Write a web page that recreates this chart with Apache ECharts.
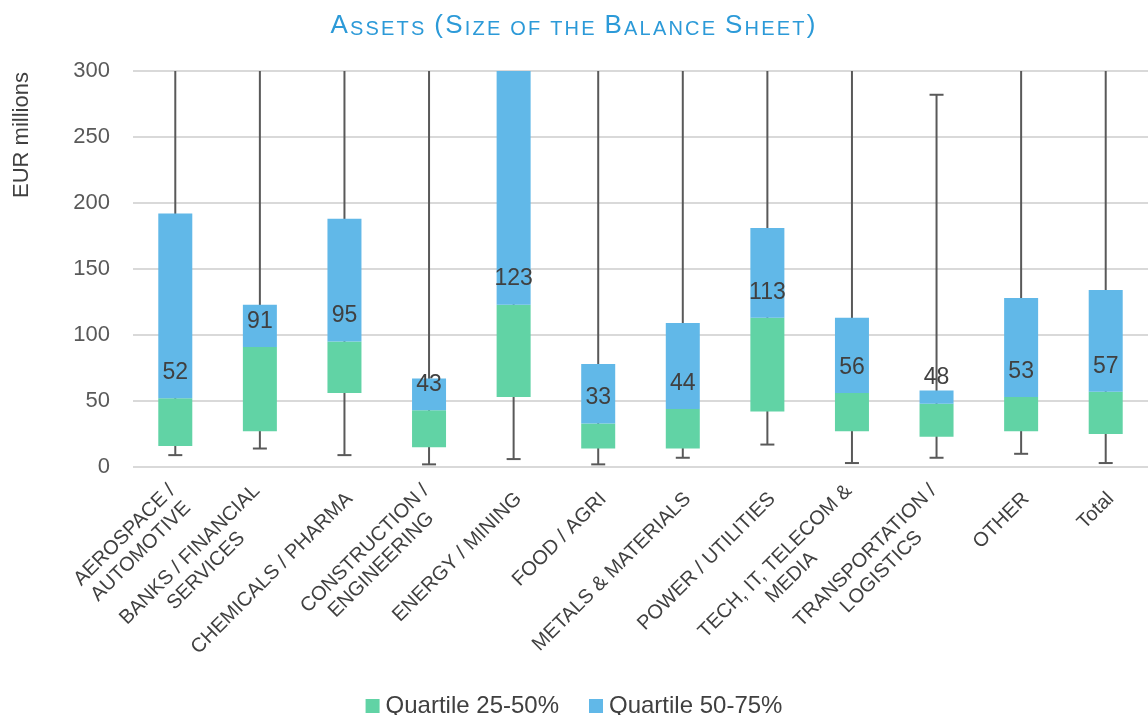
<!DOCTYPE html>
<html>
<head>
<meta charset="utf-8">
<script src="https://cdn.jsdelivr.net/npm/echarts@6/dist/echarts.min.js"></script>
<style>
  html, body { margin: 0; padding: 0; background: #fff; }
  #chart { width: 1148px; height: 715px; }
</style>
</head>
<body>
<div id="chart"></div>
<script>
const categories = [
  'AEROSPACE /\nAUTOMOTIVE', 'BANKS / FINANCIAL\nSERVICES', 'CHEMICALS / PHARMA',
  'CONSTRUCTION /\nENGINEERING', 'ENERGY / MINING', 'FOOD / AGRI',
  'METALS & MATERIALS', 'POWER / UTILITIES', 'TECH, IT, TELECOM &\nMEDIA',
  'TRANSPORTATION /\nLOGISTICS', 'OTHER', 'Total'
];
// quartile 25%, median, quartile 75% (EUR millions)
const q1Values = [16, 27, 56, 15, 53, 14, 14, 42, 27, 23, 27, 25];
const medianValues = [52, 91, 95, 43, 123, 33, 44, 113, 56, 48, 53, 57];
const q3Values = [192, 123, 188, 67, 300, 78, 109, 181, 113, 58, 128, 134];
// whiskers; null = runs past the top of the axis
const minValues = [9, 14, 9, 2, 6, 2, 7, 17, 3, 7, 10, 3];
const maxValues = [null, null, null, null, null, null, null, null, null, 282, null, null];
const yTicks = [0, 50, 100, 150, 200, 250, 300];
const titleText = 'Assets (Size of the Balance Sheet)';

const FONT = '"Liberation Sans", Arial, sans-serif';
const AXIS_MAX = yTicks[yTicks.length - 1];
const GREEN = '#61d3a5';
const BLUE = '#61b8e8';

const chart = echarts.init(document.getElementById('chart'));

// small caps: capitals big, lower case as smaller capitals
function smallCaps(txt) {
  return txt.split('').map(function (ch) {
    const big = ch !== ch.toLowerCase() || ch === '(' || ch === ')';
    return '{' + (big ? 'b' : 's') + '|' + ch.toUpperCase() + '}';
  }).join('');
}

const whiskerData = minValues.map(function (mn, i) {
  const mx = maxValues[i];
  return [i, mn, mx == null ? AXIS_MAX : mx, mx == null ? 0 : 1];
});

const option = {
  backgroundColor: '#ffffff',
  title: {
    left: 'center',
    top: 8,
    text: smallCaps(titleText),
    textStyle: {
      fontFamily: FONT,
      fontWeight: 'normal',
      rich: {
        b: { fontSize: 26, color: '#2c9ad8', fontFamily: FONT, fontWeight: 'normal', verticalAlign: 'bottom', padding: [0, 2.2, 0, 0] },
        s: { fontSize: 20, color: '#2c9ad8', fontFamily: FONT, fontWeight: 'normal', verticalAlign: 'bottom', padding: [0, 2.2, 0, 0] }
      }
    }
  },
  graphic: [{
    type: 'text',
    x: 22,
    y: 135,
    rotation: Math.PI / 2,
    style: {
      text: 'EUR millions',
      font: '22px ' + FONT,
      fill: '#404040',
      align: 'center',
      verticalAlign: 'middle'
    }
  }],
  legend: {
    top: 694,
    left: 'center',
    padding: 0,
    icon: 'rect',
    itemWidth: 14,
    itemHeight: 14,
    itemGap: 30,
    data: ['Quartile 25-50%', 'Quartile 50-75%'],
    textStyle: { fontSize: 24, color: '#404040', fontFamily: FONT, padding: [0, 0, 0, 1] }
  },
  grid: {
    left: 133,
    top: 71,
    width: 1020,
    bottom: 248
  },
  xAxis: {
    type: 'category',
    data: categories,
    axisLine: { show: false },
    axisTick: { show: false },
    axisLabel: {
      interval: 0,
      rotate: 45,
      margin: 24,
      padding: [14, 0, 0, 0],
      color: '#404040',
      fontFamily: FONT,
      fontSize: 20,
      formatter: function (v) {
        return v.split('\n').map(function (l) { return '{c|' + l + '}'; }).join('\n');
      },
      rich: {
        c: { fontSize: 20, color: '#404040', fontFamily: FONT, align: 'center', lineHeight: 23 }
      }
    }
  },
  yAxis: {
    type: 'value',
    min: 0,
    max: AXIS_MAX,
    interval: 50,
    axisLine: { show: false },
    axisTick: { show: false },
    axisLabel: { margin: 23, fontSize: 22, color: '#595959', fontFamily: FONT },
    splitLine: { lineStyle: { color: '#d9d9d9', width: 2 } }
  },
  series: [
    {
      name: 'whisker',
      type: 'custom',
      z: 1,
      clip: true,
      data: whiskerData,
      renderItem: function (params, api) {
        const lo = api.coord([api.value(0), api.value(1)]);
        const hi = api.coord([api.value(0), api.value(2)]);
        const style = { stroke: '#595959', lineWidth: 2 };
        const kids = [
          { type: 'line', shape: { x1: lo[0], y1: lo[1], x2: hi[0], y2: hi[1] }, style: style },
          { type: 'line', shape: { x1: lo[0] - 7, y1: lo[1], x2: lo[0] + 7, y2: lo[1] }, style: style }
        ];
        if (api.value(3)) {
          kids.push({ type: 'line', shape: { x1: hi[0] - 7, y1: hi[1], x2: hi[0] + 7, y2: hi[1] }, style: style });
        }
        return { type: 'group', children: kids };
      }
    },
    {
      name: 'base',
      type: 'bar',
      stack: 'box',
      barWidth: 34,
      z: 2,
      itemStyle: { color: 'rgba(0,0,0,0)' },
      emphasis: { disabled: true },
      data: q1Values
    },
    {
      name: 'Quartile 25-50%',
      type: 'bar',
      stack: 'box',
      barWidth: 34,
      z: 2,
      itemStyle: { color: GREEN },
      data: medianValues.map(function (m, i) { return m - q1Values[i]; }),
      label: {
        show: true,
        position: 'top',
        distance: 14,
        fontSize: 23,
        color: '#404040',
        fontFamily: FONT,
        formatter: function (p) { return medianValues[p.dataIndex]; }
      }
    },
    {
      name: 'Quartile 50-75%',
      type: 'bar',
      stack: 'box',
      barWidth: 34,
      z: 2,
      itemStyle: { color: BLUE },
      data: q3Values.map(function (q, i) { return q - medianValues[i]; })
    }
  ]
};

chart.setOption(option);
</script>
</body>
</html>
